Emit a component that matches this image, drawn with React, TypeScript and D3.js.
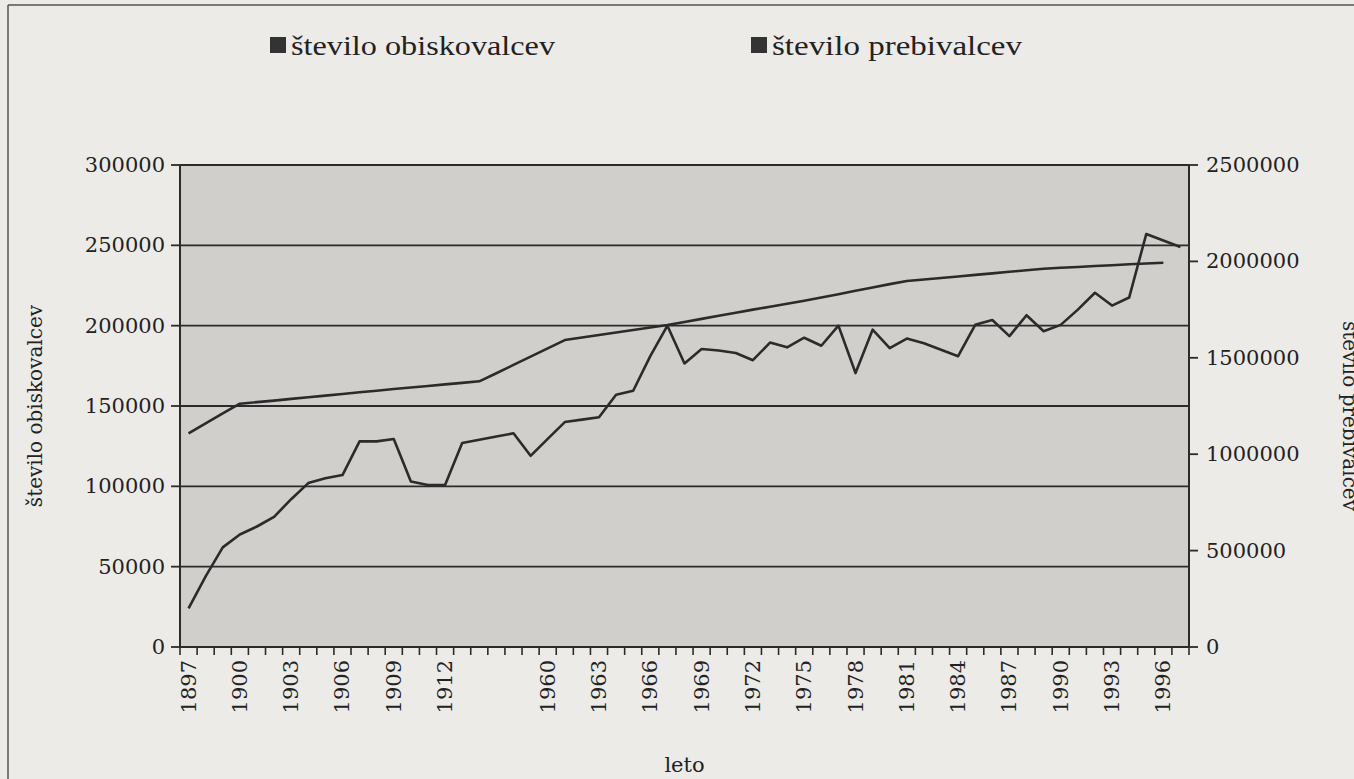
import * as d3 from "d3";

const W = 1354;
const H = 779;
const PLOT = { left: 180, right: 1189, top: 165, bottom: 647 };

// categories (x axis); one blank category separates the two periods
const years = [
  "1897", "1898", "1899", "1900", "1901", "1902", "1903", "1904", "1905", "1906",
  "1907", "1908", "1909", "1910", "1911", "1912", "1913", "1914", "", "1958",
  "1959", "1960", "1961", "1962", "1963", "1964", "1965", "1966", "1967", "1968",
  "1969", "1970", "1971", "1972", "1973", "1974", "1975", "1976", "1977", "1978",
  "1979", "1980", "1981", "1982", "1983", "1984", "1985", "1986", "1987", "1988",
  "1989", "1990", "1991", "1992", "1993", "1994", "1995", "1996", "1997",
];

// število obiskovalcev (left axis)
const visitors = [
  24000, 44000, 62000, 70000, 75000, 81000, 92000, 102000, 105000, 107000,
  128000, 128000, 129500, 103000, 100800, 100800, 127000, 129000, 131000, 133000,
  119000, 129500, 140000, 141500, 143000, 157000, 159500, 181000, 200000, 176500,
  185500, 184500, 183000, 178500, 189500, 186500, 192500, 187500, 200000, 170500,
  197500, 186000, 192000, 189000, 185000, 181000, 200500, 203500, 193500, 206500,
  196500, 200500, 210000, 220500, 212500, 217500, 257000, 253000, 249000,
];

// število prebivalcev (right axis)
const residents: (number | null)[] = [
  1108000, 1160000, 1212000, 1262000, 1270000, 1278000, 1287000, 1295000, 1304000, 1312000,
  1321000, 1329000, 1338000, 1346000, 1354000, 1362000, 1370000, 1378000, 1420000, 1463000,
  1506000, 1549000, 1592000, 1605000, 1618000, 1631000, 1644000, 1657000, 1670000, 1686000,
  1702000, 1718000, 1734000, 1750000, 1765000, 1780000, 1796000, 1813000, 1830000, 1848000,
  1865000, 1882000, 1898000, 1906000, 1914000, 1922000, 1930000, 1938000, 1946000, 1954000,
  1962000, 1967000, 1971000, 1976000, 1980000, 1985000, 1989000, 1993000, null,
];

const leftTicks = [0, 50000, 100000, 150000, 200000, 250000, 300000];
const rightTicks = [0, 500000, 1000000, 1500000, 2000000, 2500000];
const legendLabels = ["število obiskovalcev", "število prebivalcev"];

const INK = "#2b2b2b";
const NUM_FONT = "'DejaVu Serif', serif";

export default function App() {
  const x = d3.scaleBand<string>().domain(years).range([PLOT.left, PLOT.right]);
  const bw = x.bandwidth();
  const cx = (i: number) => (x(years[i]) as number) + bw / 2;

  const yLeft = d3.scaleLinear().domain([0, 300000]).range([PLOT.bottom, PLOT.top]);
  const yRight = d3.scaleLinear().domain([0, 2500000]).range([PLOT.bottom, PLOT.top]);

  const visitorLine = d3
    .line<number>()
    .x((_, i) => cx(i))
    .y((d) => yLeft(d));

  const residentLine = d3
    .line<number | null>()
    .defined((d) => d !== null)
    .x((_, i) => cx(i))
    .y((d) => yRight(d as number));

  const boundaries = d3.range(years.length + 1).map((i) => PLOT.left + i * bw);

  return (
    <svg
      width={W}
      height={H}
      style={{ position: "absolute", left: 0, top: 0, display: "block" }}
    >
      <rect x={0} y={0} width={W} height={H} fill="#ecebe8" />
      {/* outer frame */}
      <line x1={8} x2={W} y1={5} y2={5} stroke="#555" strokeWidth={1.5} />
      <line x1={8} x2={8} y1={5} y2={H} stroke="#555" strokeWidth={1.5} />

      {/* legend */}
      {legendLabels.map((label, i) => {
        const lx = i === 0 ? 270 : 751;
        return (
          <g key={label}>
            <rect x={lx} y={37} width={16} height={16} fill="#333" />
            <text
              x={lx + 21}
              y={55}
              fontFamily="'Liberation Serif', serif"
              fontSize={27}
              fill="#222"
              textLength={i === 0 ? 264 : 250}
              lengthAdjust="spacingAndGlyphs"
            >
              {label}
            </text>
          </g>
        );
      })}

      {/* plot area */}
      <rect
        x={PLOT.left}
        y={PLOT.top}
        width={PLOT.right - PLOT.left}
        height={PLOT.bottom - PLOT.top}
        fill="#d0cfcc"
      />

      {/* gridlines */}
      {leftTicks.slice(1).map((t) => (
        <line
          key={t}
          x1={PLOT.left}
          x2={PLOT.right}
          y1={yLeft(t)}
          y2={yLeft(t)}
          stroke={INK}
          strokeWidth={1.8}
        />
      ))}

      {/* axes */}
      <line x1={PLOT.left} x2={PLOT.left} y1={PLOT.top} y2={PLOT.bottom} stroke={INK} strokeWidth={2} />
      <line x1={PLOT.right} x2={PLOT.right} y1={PLOT.top} y2={PLOT.bottom} stroke={INK} strokeWidth={2} />
      <line x1={PLOT.left} x2={PLOT.right} y1={PLOT.bottom} y2={PLOT.bottom} stroke={INK} strokeWidth={2} />

      {/* left axis ticks */}
      {leftTicks.map((t) => (
        <g key={t}>
          <line x1={PLOT.left - 9} x2={PLOT.left} y1={yLeft(t)} y2={yLeft(t)} stroke={INK} strokeWidth={1.8} />
          <text
            x={PLOT.left - 15}
            y={yLeft(t)}
            textAnchor="end"
            dominantBaseline="central"
            fontFamily={NUM_FONT}
            fontSize={21}
            fill="#222"
          >
            {t}
          </text>
        </g>
      ))}

      {/* right axis ticks */}
      {rightTicks.map((t) => (
        <g key={t}>
          <line x1={PLOT.right} x2={PLOT.right + 9} y1={yRight(t)} y2={yRight(t)} stroke={INK} strokeWidth={1.8} />
          <text
            x={PLOT.right + 17}
            y={yRight(t)}
            dominantBaseline="central"
            fontFamily={NUM_FONT}
            fontSize={21}
            fill="#222"
          >
            {t}
          </text>
        </g>
      ))}

      {/* x axis ticks between categories */}
      {boundaries.map((bx, i) => (
        <line key={i} x1={bx} x2={bx} y1={PLOT.bottom} y2={PLOT.bottom + 8} stroke={INK} strokeWidth={1.6} />
      ))}
      {years.map((yr, i) =>
        i % 3 === 0 && yr !== "" ? (
          <text
            key={yr}
            transform={`translate(${cx(i)},${PLOT.bottom + 13}) rotate(-90)`}
            textAnchor="end"
            dominantBaseline="central"
            fontFamily={NUM_FONT}
            fontSize={21}
            fill="#222"
          >
            {yr}
          </text>
        ) : null
      )}

      {/* series */}
      <path d={residentLine(residents) ?? ""} fill="none" stroke={INK} strokeWidth={2.6} strokeLinejoin="round" />
      <path d={visitorLine(visitors) ?? ""} fill="none" stroke={INK} strokeWidth={2.6} strokeLinejoin="round" />

      {/* axis titles */}
      <text
        transform={`translate(35,${(PLOT.top + PLOT.bottom) / 2}) rotate(-90)`}
        textAnchor="middle"
        dominantBaseline="central"
        fontFamily={NUM_FONT}
        fontSize={20}
        fill="#222"
      >
        {legendLabels[0]}
      </text>
      <text
        transform={`translate(1350,${(PLOT.top + PLOT.bottom) / 2 + 10}) rotate(90)`}
        textAnchor="middle"
        dominantBaseline="central"
        fontFamily={NUM_FONT}
        fontSize={20}
        fill="#222"
      >
        {legendLabels[1]}
      </text>
      <text
        x={(PLOT.left + PLOT.right) / 2}
        y={772}
        textAnchor="middle"
        fontFamily={NUM_FONT}
        fontSize={21}
        fill="#222"
      >
        leto
      </text>
    </svg>
  );
}
